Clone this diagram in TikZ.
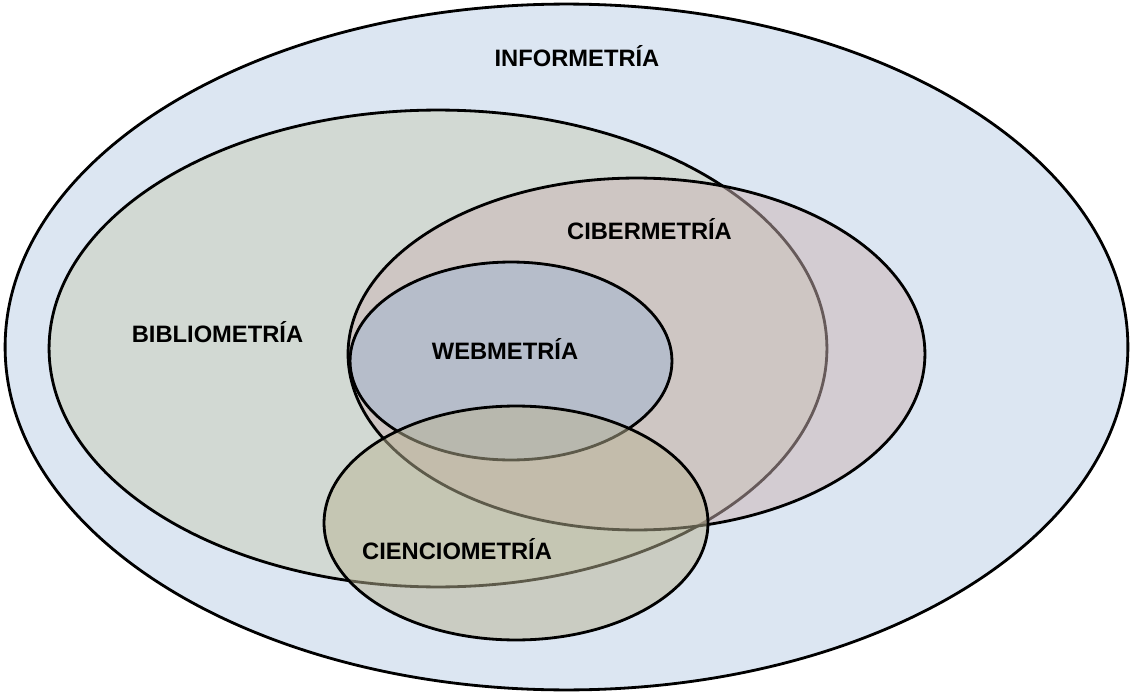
\documentclass[tikz,border=0pt]{standalone}
\usepackage{fontspec}
\setmainfont{Liberation Sans}
\usetikzlibrary{shapes.geometric}
\definecolor{infofill}{RGB}{220,230,242}
\definecolor{bibliofill}{RGB}{202,206,182}
\definecolor{ciberfill}{RGB}{204,180,180}
\definecolor{webfill}{RGB}{160,181,210}
\definecolor{cienfill}{RGB}{186,180,148}
\tikzset{
  area/.style={ellipse, draw=black, line width=1.6pt, inner sep=0pt},
  areaname/.style={font=\fontsize{13.5}{16}\selectfont\bfseries}
}

\begin{document}
\begin{tikzpicture}[x=0.02cm,y=-0.02cm]
\useasboundingbox (0,0) rectangle (1134,693);
\node[area, fill=infofill, minimum width=22.46cm, minimum height=13.72cm] (info) at (566.5,347) {};
\node[area, fill=bibliofill, fill opacity=0.5, minimum width=15.56cm, minimum height=9.54cm] (biblio) at (438,348.5) {};
\node[area, fill=ciberfill, fill opacity=0.5, minimum width=11.54cm, minimum height=7.04cm] (ciber) at (636.5,354) {};
\node[area, fill=webfill, fill opacity=0.5, minimum width=6.44cm, minimum height=3.96cm] (web) at (511,361) {};
\node[area, fill=cienfill, fill opacity=0.5, minimum width=7.68cm, minimum height=4.68cm] (cien) at (516,523) {};
% nombres
\node[areaname] (infoname) at (577,56) {INFORMETRÍA};
\node[areaname] (biblioname) at (217.5,332) {BIBLIOMETRÍA};
\node[areaname] (cibername) at (649.5,229) {CIBERMETRÍA};
\node[areaname] (webname) at (505,349) {WEBMETRÍA};
\node[areaname] (cienname) at (457,549) {CIENCIOMETRÍA};
\end{tikzpicture}
\end{document}
